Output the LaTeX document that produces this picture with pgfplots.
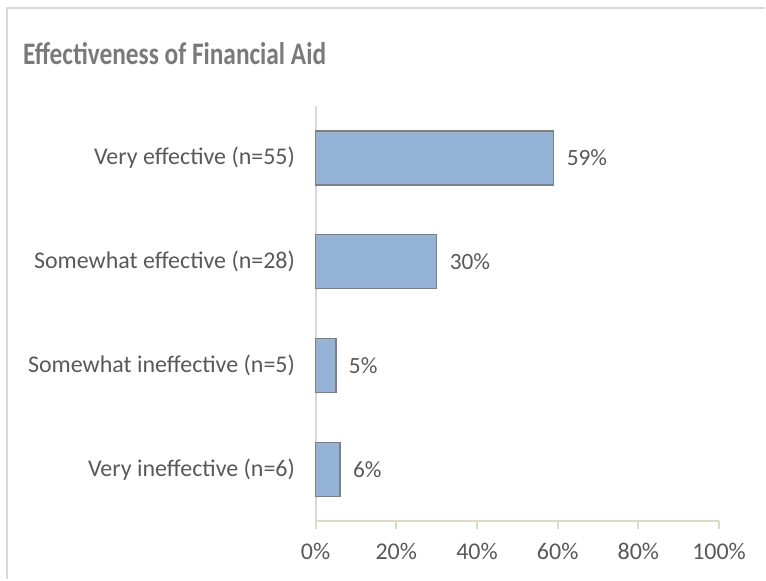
\documentclass[border=0pt]{standalone}
\usepackage{pgfplots}
\pgfplotsset{compat=1.18}
\usepackage{fontspec}
\setmainfont{Carlito}
\definecolor{barfill}{HTML}{95B3D7}
\definecolor{barline}{HTML}{7F7F7F}
\definecolor{txt}{HTML}{595959}
\definecolor{ttl}{HTML}{7A7A7A}
\definecolor{xline}{HTML}{DDD9C3}
\definecolor{yline}{HTML}{D9D9D9}
\definecolor{frame}{HTML}{D9D9D9}
\begin{document}
\begin{tikzpicture}[x=0.75pt,y=0.75pt]
\begin{axis}[
  name=ax,
  at={(0,0)}, anchor=south west,
  scale only axis,
  width=303pt, height=312pt,
  xbar, bar width=40.5pt,
  xmin=0, xmax=100,
  ymin=-0.5, ymax=3.5,
  xtick={0,20,...,100},
  xticklabel={\pgfmathprintnumber{\tick}\%},
  /pgf/number format/assume math mode=true,
  ytick={0,1,2,3},
  yticklabels={Very ineffective (n=6),Somewhat ineffective (n=5),Somewhat effective (n=28),Very effective (n=55)},
  axis x line*=bottom,
  axis y line*=left,
  x axis line style={xline, line width=1.5pt, -},
  y axis line style={yline, line width=1.5pt, -},
  xtick style={xline, line width=1.5pt},
  xtick align=outside,
  major tick length=6pt,
  ytick style={draw=none},
  ticklabel style={font=\fontsize{18}{21}\selectfont, text=txt},
  xticklabel style={yshift=-7pt},
  yticklabel style={xshift=-6pt},
  nodes near coords={\pgfmathprintnumber{\pgfplotspointmeta}\%},
  nodes near coords style={font=\fontsize{17.5}{20}\selectfont, text=txt, anchor=west, xshift=6pt, yshift=0pt},
  point meta=explicit symbolic,
  clip=false,
]
\addplot[fill=barfill, draw=barline, line width=1.2pt] coordinates {
  (6,0) [6]
  (5,1) [5]
  (30,2) [30]
  (59,3) [59]
};
\end{axis}
% frame (pixel coordinates relative to axis south west at px (316,522))
\draw[frame, line width=1.5pt] (-309,-58) -- (-309,514) -- (450,514);
\path[use as bounding box] (-316,-58) rectangle (450,522);
\node[anchor=base west, inner sep=0pt, font=\fontsize{23.5}{27}\bfseries\selectfont, text=ttl, xscale=0.81, transform shape] at (-293,457) {Effectiveness of Financial Aid};
\end{tikzpicture}
\end{document}
